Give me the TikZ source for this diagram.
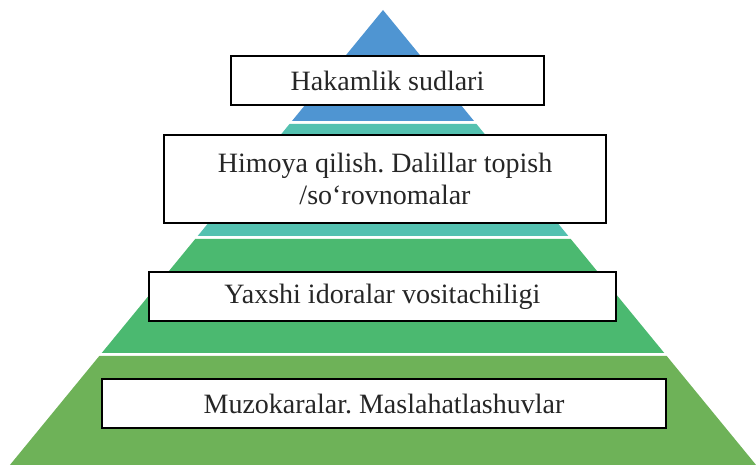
\documentclass[tikz,border=0pt]{standalone}
\usepackage{fontspec}
\setmainfont{Liberation Serif}
\usepackage{xcolor}
\usepackage{tikz}
\usetikzlibrary{positioning}
\frenchspacing

\definecolor{pyrblue}{RGB}{79,149,210}
\definecolor{pyrteal}{RGB}{84,193,176}
\definecolor{pyrgreen}{RGB}{75,185,112}
\definecolor{pyrlime}{RGB}{110,178,88}

\begin{document}
\begin{tikzpicture}[
  x=1pt,y=-1pt,
  label/.style={draw=black,line width=1.6pt,fill=white,inner sep=0pt,align=center,
    font=\fontsize{28}{32}\selectfont,text=black!85},
  layer/.style={draw=none}
]
  \useasboundingbox (0,0) rectangle (756,465);

  % pyramid layers: top / bottom / colour
  \foreach \ytop/\ybot/\col in {10/121/pyrblue,124/236/pyrteal,239/353/pyrgreen,356/465/pyrlime}{
    \fill[layer,\col] ({383-0.82*(\ytop-10)},\ytop) -- ({383+0.82*(\ytop-10)},\ytop)
      -- ({383+0.82*(\ybot-10)},\ybot) -- ({383-0.82*(\ybot-10)},\ybot) -- cycle;
  }

  \node[label,minimum width=313pt,minimum height=49pt] (court) at (387.5,80.5) {Hakamlik sudlari};
  \node[label,minimum width=442pt,minimum height=88pt] (defence) at (385,179) {Himoya qilish. Dalillar topish\\/so‘rovnomalar};
  \node[label,minimum width=467pt,minimum height=49pt] (offices) at (382.5,296.5) {Yaxshi idoralar vositachiligi};
  \node[label,minimum width=564pt,minimum height=49pt] (talks) at (384,403.5) {Muzokaralar. Maslahatlashuvlar};
\end{tikzpicture}
\end{document}
